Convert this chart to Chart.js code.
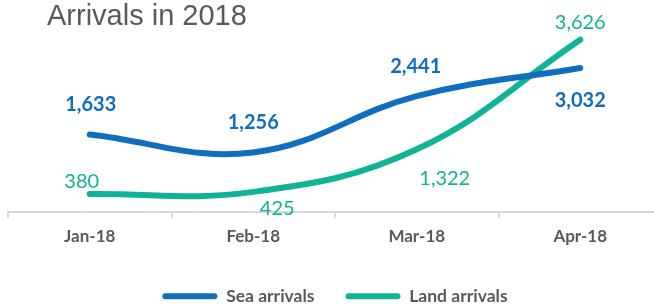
<!DOCTYPE html>
<html>
<head>
<meta charset="utf-8">
<script src="https://cdn.jsdelivr.net/npm/chart.js@4/dist/chart.umd.min.js"></script>
<style>
    html, body { margin: 0; padding: 0; background: #fff; overflow: hidden; }
    #wrap { position: relative; width: 670px; height: 304px; }
</style>
</head>
<body>
<div id="wrap"><canvas id="grafico"></canvas></div>
<script>
    // ---------------- Dados ----------------
    const titulo = 'Arrivals in 2018';
    const meses = ['Jan-18', 'Feb-18', 'Mar-18', 'Apr-18'];
    const serieNomes = ['Sea arrivals', 'Land arrivals'];
    const maritimas = [1633, 1256, 2441, 3032];
    const terrestres = [380, 425, 1322, 3626];

    const corMar = '#0f6fbe';
    const corTerra = '#10b396';
    const cinza = '#595959';
    const formatNum = new Intl.NumberFormat('en-US');

    // deslocamento dos rótulos em relação ao ponto (px)
    const desvios = [
        [[1, -30], [0, -30], [-1, -30], [0, 33]],
        [[-8, -12], [24, 17], [28, 29], [0, -17]]
    ];

    const rotulosPlugin = {
        id: 'rotulos',
        afterDatasetsDraw(chart) {
            const ctx = chart.ctx;
            ctx.save();
            ctx.textAlign = 'center';
            ctx.textBaseline = 'middle';
            chart.data.datasets.forEach((ds, i) => {
                const meta = chart.getDatasetMeta(i);
                ctx.fillStyle = ds.borderColor;
                ctx.font = (i === 0 ? 'bold ' : '') + '20px Lato';
                meta.data.forEach((pt, j) => {
                    const d = desvios[i][j];
                    ctx.fillText(formatNum.format(ds.data[j]), pt.x + d[0], pt.y + d[1]);
                });
            });
            ctx.restore();
        }
    };

    const tituloPlugin = {
        id: 'tituloLivre',
        afterDraw(chart) {
            const ctx = chart.ctx;
            ctx.save();
            ctx.fillStyle = cinza;
            ctx.font = '29px "Liberation Sans", Arial, sans-serif';
            ctx.textAlign = 'left';
            ctx.textBaseline = 'alphabetic';
            ctx.fillText(titulo, 47, 25);
            ctx.restore();
        }
    };

    new Chart(document.getElementById('grafico'), {
        type: 'line',
        data: {
            labels: meses,
            datasets: [
                { label: serieNomes[0], data: maritimas, borderColor: corMar, backgroundColor: corMar,
                  borderWidth: 6, borderCapStyle: 'round', tension: 0.4, pointRadius: 0, fill: false },
                { label: serieNomes[1], data: terrestres, borderColor: corTerra, backgroundColor: corTerra,
                  borderWidth: 6, borderCapStyle: 'round', tension: 0.4, pointRadius: 0, fill: false }
            ]
        },
        options: {
            responsive: true,
            maintainAspectRatio: false,
            animation: false,
            layout: { padding: { left: 8, right: 8, top: 22, bottom: -11 } },
            scales: {
                x: {
                    offset: true,
                    grid: { offset: true, drawOnChartArea: false, drawTicks: true, tickLength: 6, color: '#d9d9d9', lineWidth: 2 },
                    border: { display: true, color: '#d9d9d9', width: 2 },
                    ticks: { color: cinza, font: { family: 'Lato', size: 17, weight: 'bold' }, padding: 8 },
                    afterFit(scale) { scale.height += 2; }
                },
                y: { display: false, min: 0, max: 4000 }
            },
            plugins: {
                legend: {
                    position: 'bottom',
                    labels: {
                        color: cinza,
                        font: { family: 'Lato', size: 17.5, weight: 'bold' },
                        boxWidth: 55,
                        boxHeight: 6,
                        useBorderRadius: true,
                        borderRadius: 3,
                        padding: 31,
                        generateLabels(chart) {
                            return chart.data.datasets.map((ds, i) => ({
                                text: ds.label,
                                fillStyle: ds.borderColor,
                                strokeStyle: ds.borderColor,
                                lineWidth: 0,
                                fontColor: cinza,
                                datasetIndex: i,
                                borderRadius: 3
                            }));
                        }
                    }
                },
                tooltip: { enabled: false }
            }
        },
        plugins: [rotulosPlugin, tituloPlugin]
    });
</script>
</body>
</html>
